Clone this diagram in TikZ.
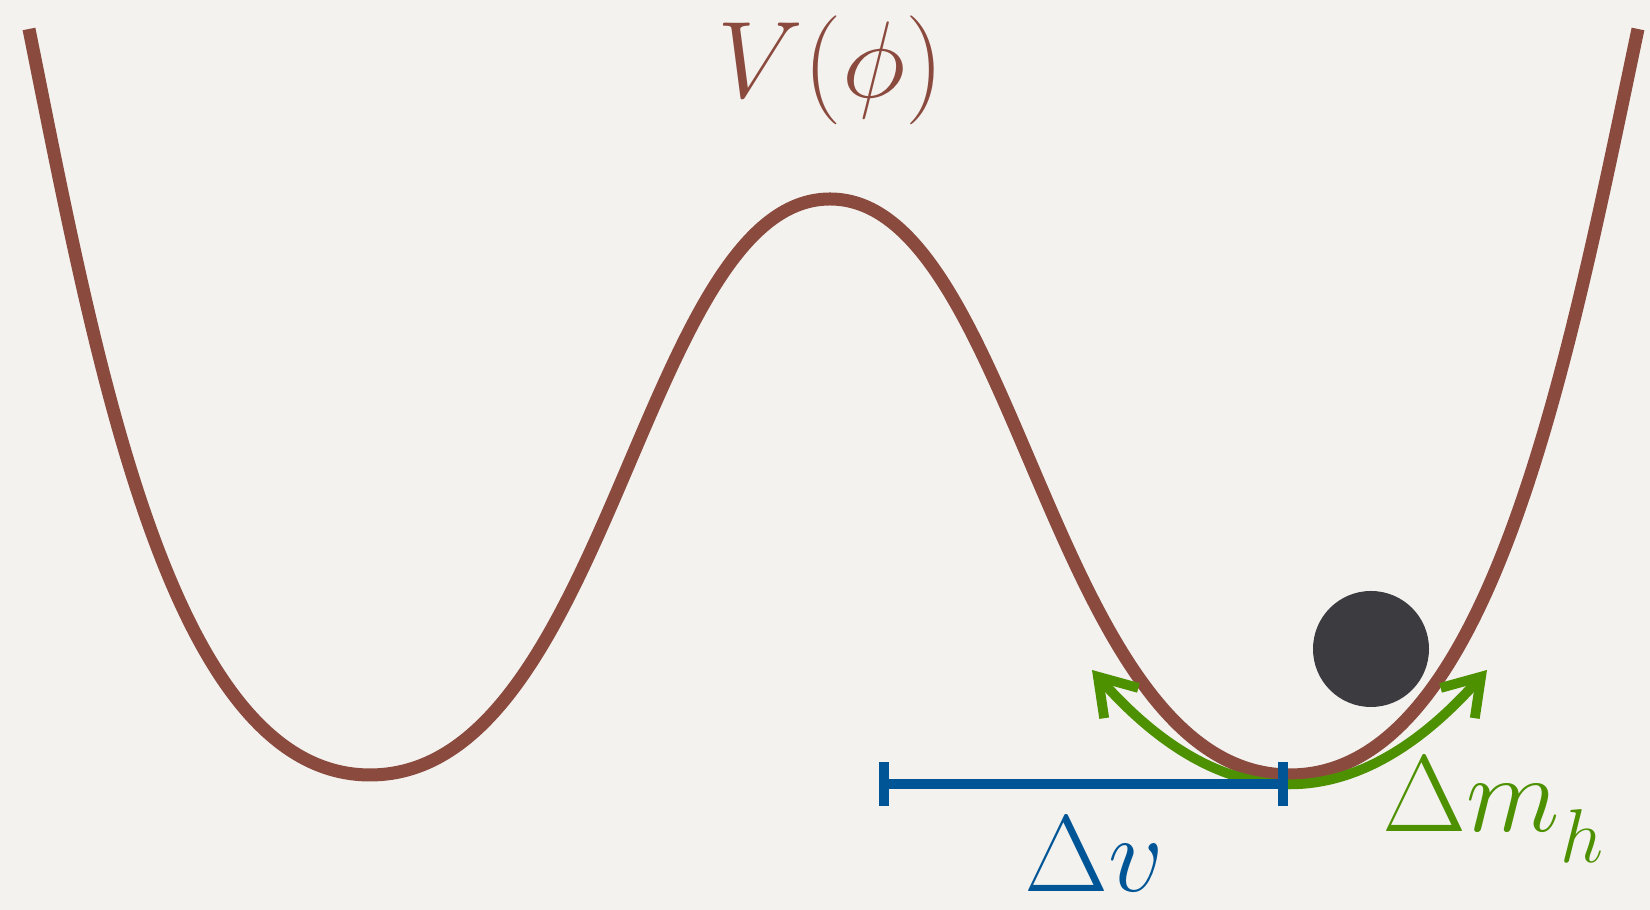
\RequirePackage{fix-cm}
\documentclass[tikz,border=0pt]{standalone}
\usetikzlibrary{arrows.meta}

\definecolor{potbrown}{RGB}{139,74,62}
\definecolor{massgreen}{RGB}{78,145,0}
\definecolor{vevblue}{RGB}{0,85,150}
\definecolor{ballgray}{RGB}{60,59,64}
\definecolor{paper}{RGB}{243,242,239}

\begin{document}
\begin{tikzpicture}[
    potline/.style={draw=potbrown, line width=3.7pt},
    shiftarrow/.style={{Straight Barb[length=10pt,width=13pt]}-{Straight Barb[length=10pt,width=13pt]}, draw=massgreen, line width=2.8pt},
    vevbar/.style={{Bar[width=12.5pt]}-{Bar[width=12.5pt]}, draw=vevblue, line width=2.8pt},
    ball/.style={circle, fill=ballgray, minimum size=1.16cm, inner sep=0pt},
    biglabel/.style={font=\fontsize{31}{36}\selectfont, inner sep=0pt},
]
\fill[paper] (0,0) rectangle (16.5,9.1);
\useasboundingbox (0,0) rectangle (16.5,9.1);

\node[ball] (ball) at (13.71,2.61) {};

% double well
\draw[potline] (0.29,8.81) .. controls (0.96,5.48) and (1.70,1.35) .. (3.70,1.35)
    .. controls (6.08,1.35) and (6.43,7.11) .. (8.30,7.11)
    .. controls (10.17,7.11) and (10.52,1.35) .. (12.90,1.35)
    .. controls (14.90,1.35) and (15.68,5.48) .. (16.38,8.81);

\coordinate (mleft) at (10.92,2.40);
\coordinate (mright) at (14.87,2.40);
\draw[shiftarrow] (mleft) .. controls (12.24,0.91) and (13.55,0.91) .. (mright);

\coordinate (vstart) at (8.79,1.26);
\coordinate (vend) at (12.88,1.26);
\draw[vevbar] (vstart) -- (vend);

\node[biglabel, potbrown, anchor=base] (pot) at (8.31,8.12) {$V(\phi)$};
\node[biglabel, vevblue, anchor=base] (dv) at (10.94,0.18) {$\Delta v$};
\node[biglabel, massgreen, anchor=base west] (dm) at (13.82,0.78) {$\Delta m_{\lower4pt\hbox{$\scriptstyle h$}}$};
\end{tikzpicture}
\end{document}
